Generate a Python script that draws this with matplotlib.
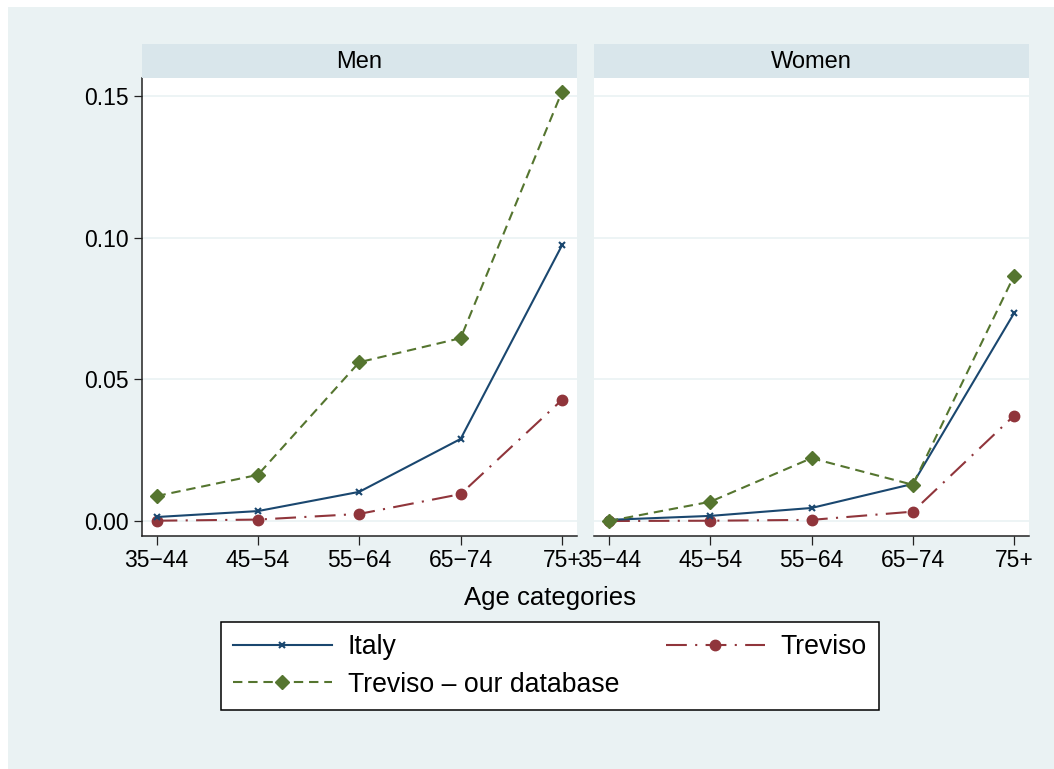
import matplotlib
matplotlib.use("Agg")
import matplotlib.pyplot as plt
from matplotlib.patches import Rectangle

# ---- data -------------------------------------------------------------
age_labels = ["35\u221244", "45\u221254", "55\u221264", "65\u221274", "75+"]
panels = ["Men", "Women"]

italy_men = [0.0014, 0.0035, 0.0103, 0.0290, 0.0974]
treviso_men = [0.0001, 0.0005, 0.0025, 0.0095, 0.0428]
treviso_db_men = [0.0088, 0.0163, 0.0561, 0.0646, 0.1517]

italy_women = [0.0004, 0.0018, 0.0046, 0.0131, 0.0734]
treviso_women = [0.0000, 0.0001, 0.0004, 0.0033, 0.0372]
treviso_db_women = [0.0000, 0.0068, 0.0222, 0.0128, 0.0866]

y_ticks = [0.00, 0.05, 0.10, 0.15]

series_names = ["Italy", "Treviso", "Treviso \u2013 our database"]

# ---- style ------------------------------------------------------------
W, H = 1054, 769
DPI = 100
BG = "#EAF2F3"
STRIP = "#D9E6EB"
GRID = "#EAF2F3"
NAVY = "#1A476F"
MAROON = "#90353B"
GREEN = "#55752F"
FONT = "Liberation Sans"

plt.rcParams["font.family"] = [FONT, "DejaVu Sans"]

fig = plt.figure(figsize=(W / DPI, H / DPI), dpi=DPI, facecolor="white")

# outer graph region
fig.patches.append(Rectangle((8 / W, 0), 1 - 8 / W, 1 - 7 / H,
                             transform=fig.transFigure, facecolor=BG,
                             edgecolor="none", zorder=-10))


def px_rect(x0, y0, x1, y1):
    return [x0 / W, 1 - y1 / H, (x1 - x0) / W, (y1 - y0) / H]


panel_px = [(141.5, 577.0), (594.0, 1029.0)]
top_px, bottom_px = 77.5, 536.0
strip_top = 44.0

data = {
    "Men": (italy_men, treviso_men, treviso_db_men),
    "Women": (italy_women, treviso_women, treviso_db_women),
}

xs = list(range(len(age_labels)))
handles = None
for i, (name, (x0, x1)) in enumerate(zip(panels, panel_px)):
    ax = fig.add_axes(px_rect(x0, top_px, x1, bottom_px))
    ax.set_facecolor("white")
    it, tv, db = data[name]

    l1, = ax.plot(xs, it, color=NAVY, lw=1.5, marker="x", ms=4.5, mew=1.5,
                  zorder=4)
    l2, = ax.plot(xs, tv, color=MAROON, lw=1.5, marker="o", ms=7.5,
                  linestyle=(0, (10, 4, 1, 4)), zorder=3)
    l3, = ax.plot(xs, db, color=GREEN, lw=1.5, marker="D", ms=7,
                  linestyle=(0, (4.5, 2.8)), zorder=5)
    handles = [l1, l2, l3]

    ax.set_xlim(-0.148, 4.148)
    ax.set_ylim(-0.0053, 0.1567)
    ax.set_yticks(y_ticks)
    ax.set_xticks(xs)
    ax.set_xticklabels(age_labels, fontsize=16.5)
    ax.grid(axis="y", color=GRID, lw=1.2, zorder=0)
    ax.grid(axis="x", visible=False)
    ax.set_axisbelow(True)

    for s in ["top", "right"]:
        ax.spines[s].set_visible(False)
    ax.spines["bottom"].set_linewidth(1.1)
    ax.spines["bottom"].set_color("#222222")
    ax.tick_params(axis="x", length=6.5, width=0.9, pad=3, color="#222222")
    if i == 0:
        ax.spines["left"].set_linewidth(1.1)
        ax.spines["left"].set_color("#222222")
        ax.set_yticklabels([f"{v:.2f}" for v in y_ticks], fontsize=16.5)
        ax.tick_params(axis="y", length=6, width=0.9, pad=3.5, color="#222222")
    else:
        ax.spines["left"].set_visible(False)
        ax.tick_params(axis="y", length=0, labelleft=False)

    # panel strip
    sax = fig.add_axes(px_rect(x0, strip_top, x1, top_px))
    sax.set_facecolor(STRIP)
    sax.set_xticks([])
    sax.set_yticks([])
    for s in sax.spines.values():
        s.set_visible(False)
    sax.text(0.5, 0.45, name, ha="center", va="center", fontsize=17,
             transform=sax.transAxes)

fig.text(550 / W, 1 - 598 / H, "Age categories", ha="center", va="center",
         fontsize=18.5)

# legend: column-wise order gives Italy / Treviso db in first column
leg_handles = [handles[0], handles[2], handles[1]]
leg_labels = [series_names[0], series_names[2], series_names[1]]
leg = fig.legend(leg_handles, leg_labels, ncol=2, mode="expand",
                 loc="center",
                 bbox_to_anchor=(221 / W, 1 - 710 / H, (879 - 221) / W, 88 / H),
                 bbox_transform=fig.transFigure,
                 fontsize=19.2, handlelength=3.7, handletextpad=0.6,
                 labelspacing=0.42, borderpad=0.45, borderaxespad=0,
                 fancybox=False, frameon=True, framealpha=1, edgecolor="black")
leg.get_frame().set_linewidth(1.1)
leg.get_frame().set_facecolor("white")

fig.savefig("out.png", dpi=DPI, facecolor=fig.get_facecolor())
